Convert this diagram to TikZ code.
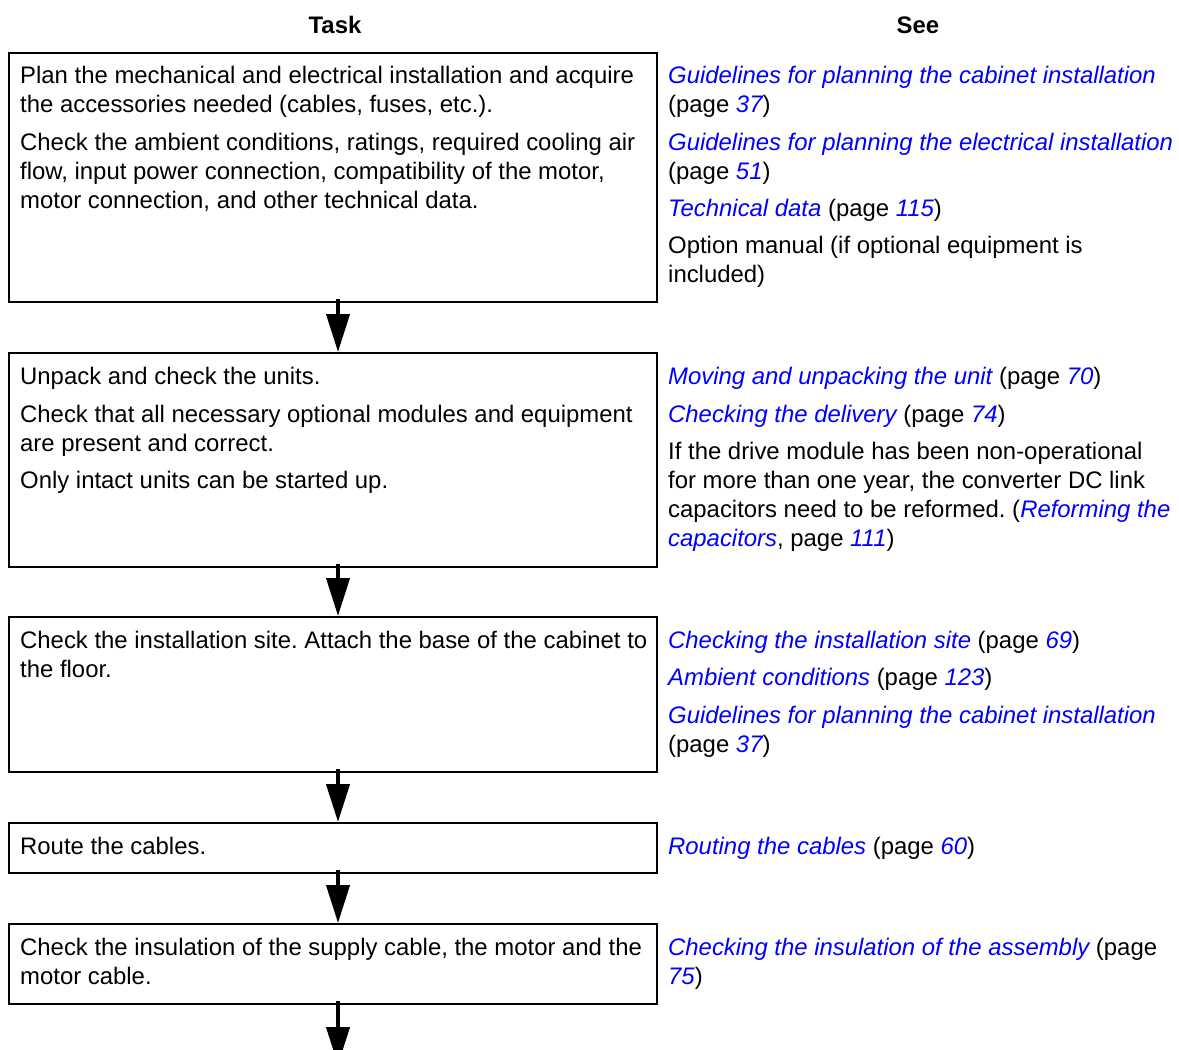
\documentclass[tikz,border=0pt]{standalone}
\usepackage{fontspec}
\setmainfont{Liberation Sans}
\usetikzlibrary{arrows.meta}
\definecolor{linkblue}{RGB}{0,0,255}
\newcommand\lk[1]{\textcolor{linkblue}{\itshape #1}}
\newcommand\ml[1]{\begin{tabular}[t]{@{}l@{}}#1\end{tabular}}
\frenchspacing
\tikzset{
  txt/.style={anchor=base west, inner sep=0pt, font=\fontsize{23.9}{29.3}\selectfont},
  hdr/.style={anchor=base, inner sep=0pt, font=\fontsize{23.9}{29.3}\selectfont\bfseries},
  taskbox/.style={draw=black, line width=2pt, inner sep=0pt, minimum width=648pt},
  flowarrow/.style={line width=4pt, -{Triangle[length=38pt,width=23pt]}}
}
\begin{document}
\begin{tikzpicture}[x=1pt,y=-1pt]
\useasboundingbox (0,0) rectangle (1179,1050);
\fill[white] (0,0) rectangle (1179,1050);
% headers
\node[hdr] (hTask) at (335,33) {Task};
\node[hdr] (hSee) at (918,33) {See};
% boxes
\node[taskbox, minimum height=249.5pt] (b1) at (333,177.25) {};
\node[taskbox, minimum height=214pt] (b2) at (333,460) {};
\node[taskbox, minimum height=155pt] (b3) at (333,694.5) {};
\node[taskbox, minimum height=50pt] (b4) at (333,848) {};
\node[taskbox, minimum height=80pt] (b5) at (333,964) {};
\coordinate (bend) at (338,1065);
% arrows
\draw[flowarrow] ([xshift=5pt,yshift=4pt]b1.south) -- ([xshift=5pt]b2.north);
\draw[flowarrow] ([xshift=5pt,yshift=4pt]b2.south) -- ([xshift=5pt]b3.north);
\draw[flowarrow] ([xshift=5pt,yshift=4pt]b3.south) -- ([xshift=5pt]b4.north);
\draw[flowarrow] ([xshift=5pt,yshift=4pt]b4.south) -- ([xshift=5pt]b5.north);
\draw[flowarrow] ([xshift=5pt,yshift=4pt]b5.south) -- (bend);
% box 1
\node[txt] (t1a) at (20,83) {\ml{Plan the mechanical and electrical installation and acquire\\the accessories needed (cables, fuses, etc.).}};
\node[txt] (t1b) at (20,150) {\ml{Check the ambient conditions, ratings, required cooling air\\flow, input power connection, compatibility of the motor,\\motor connection, and other technical data.}};
\node[txt] (s1a) at (668,83) {\ml{\lk{Guidelines for planning the cabinet installation}\\(page \lk{37})}};
\node[txt] (s1b) at (668,150) {\ml{\lk{Guidelines for planning the electrical installation}\\(page \lk{51})}};
\node[txt] (s1c) at (668,216) {\lk{Technical data} (page \lk{115})};
\node[txt] (s1d) at (668,253) {\ml{Option manual (if optional equipment is\\included)}};
% box 2
\node[txt] (t2a) at (20,384) {Unpack and check the units.};
\node[txt] (t2b) at (20,422) {\ml{Check that all necessary optional modules and equipment\\are present and correct.}};
\node[txt] (t2c) at (20,488) {Only intact units can be started up.};
\node[txt] (s2a) at (668,384) {\lk{Moving and unpacking the unit} (page \lk{70})};
\node[txt] (s2b) at (668,422) {\lk{Checking the delivery} (page \lk{74})};
\node[txt] (s2c) at (668,459) {\ml{If the drive module has been non-operational\\for more than one year, the converter DC link\\capacitors need to be reformed. (\lk{Reforming the}\\\lk{capacitors}, page \lk{111})}};
% box 3
\node[txt] (t3) at (20,648) {\ml{Check the installation site. Attach the base of the cabinet to\\the floor.}};
\node[txt] (s3a) at (668,648) {\lk{Checking the installation site} (page \lk{69})};
\node[txt] (s3b) at (668,685) {\lk{Ambient conditions} (page \lk{123})};
\node[txt] (s3c) at (668,723) {\ml{\lk{Guidelines for planning the cabinet installation}\\(page \lk{37})}};
% box 4
\node[txt] (t4) at (20,854) {Route the cables.};
\node[txt] (s4) at (668,854) {\lk{Routing the cables} (page \lk{60})};
% box 5
\node[txt] (t5) at (20,955) {\ml{Check the insulation of the supply cable, the motor and the\\motor cable.}};
\node[txt] (s5) at (668,955) {\ml{\lk{Checking the insulation of the assembly} (page\\\lk{75})}};
\end{tikzpicture}
\end{document}
